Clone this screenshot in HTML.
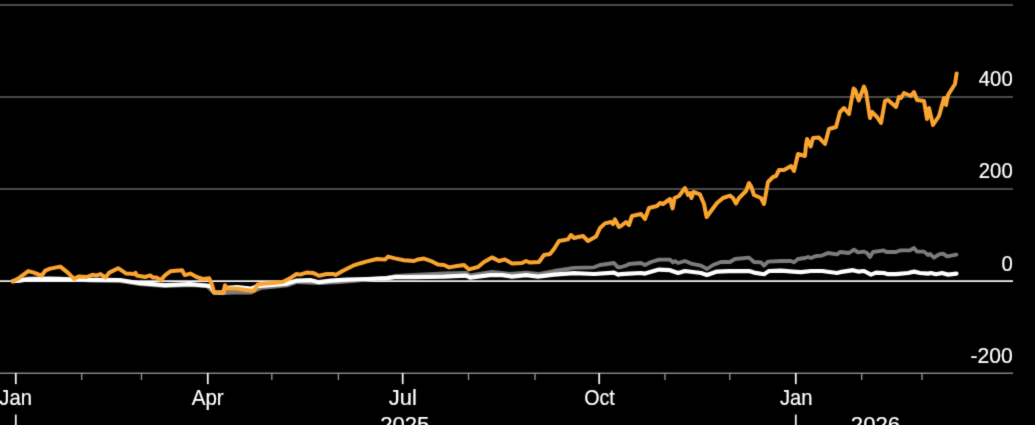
<!DOCTYPE html>
<html><head><meta charset="utf-8">
<style>
html,body{margin:0;padding:0;background:#000;}
body{width:1035px;height:425px;overflow:hidden;position:relative;font-family:"Liberation Sans",sans-serif;}
svg{position:absolute;left:0;top:0;display:block;}
text{font-family:"Liberation Sans",sans-serif;fill:#ffffff;stroke:#ffffff;stroke-width:0.2px;}
</style></head><body>
<svg width="1035" height="425" viewBox="0 0 1035 425">
<defs><filter id="soft" filterUnits="userSpaceOnUse" x="0" y="0" width="1035" height="425" color-interpolation-filters="sRGB">
<feConvolveMatrix order="3" kernelMatrix="0.02 0.08 0.02 0.08 0.6 0.08 0.02 0.08 0.02" divisor="1" edgeMode="duplicate" preserveAlpha="false"/>
</filter></defs>
<rect width="1035" height="425" fill="#000"/>
<g filter="url(#soft)">
<rect width="1035" height="425" fill="#000"/>
<g stroke="#4a4a4a" stroke-width="2">
<line x1="0" y1="4.9" x2="1013" y2="4.9"/>
<line x1="0" y1="97" x2="1013" y2="97"/>
<line x1="0" y1="189" x2="1013" y2="189"/>
</g>
<line x1="0" y1="281.1" x2="1013" y2="281.1" stroke="#f4f4f4" stroke-width="1.7"/>
<line x1="0" y1="373.3" x2="1013" y2="373.3" stroke="#848484" stroke-width="1.4"/>
<g stroke="#f2f2f2" stroke-width="1.8">
<line x1="15.8" y1="373" x2="15.8" y2="384.1"/><line x1="207.8" y1="373" x2="207.8" y2="384.1"/><line x1="402.7" y1="373" x2="402.7" y2="384.1"/><line x1="599.2" y1="373" x2="599.2" y2="384.1"/><line x1="795.8" y1="373" x2="795.8" y2="384.1"/>
<line x1="15.8" y1="414.6" x2="15.8" y2="425"/>
<line x1="795.8" y1="414.6" x2="795.8" y2="425"/>
</g>
<g stroke="#909090" stroke-width="1.4">
<line x1="81.7" y1="373" x2="81.7" y2="380"/><line x1="141.5" y1="373" x2="141.5" y2="380"/><line x1="271.8" y1="373" x2="271.8" y2="380"/><line x1="338.4" y1="373" x2="338.4" y2="380"/><line x1="468.5" y1="373" x2="468.5" y2="380"/><line x1="535" y1="373" x2="535" y2="380"/><line x1="665" y1="373" x2="665" y2="380"/><line x1="729.8" y1="373" x2="729.8" y2="380"/><line x1="861.7" y1="373" x2="861.7" y2="380"/><line x1="922" y1="373" x2="922" y2="380"/>
</g>
<g fill="none" stroke-linejoin="round" stroke-linecap="round">
<polyline stroke="#7c7c7c" stroke-width="3.8" points="13,281 28,278.4 50,278 65,278.6 90,280.5 120,281 140,284 165,286 190,285 207,286 214,292.6 223,293 237,292.3 251,292.6 257,289.6 262,287.8 273,286.8 287,285.4 297,282 319,283 340,282 385,278 395,276 414,275 444,273.4 466,273 470,275.4 492,272 510,274 526,272.6 538,274 554,271 574,267.8 594,267.3 600,265 614,263 618,267.4 621,267 626,265.6 629,264 641,263 645,265 651,262 659,259.6 670,259.6 673,262.4 675,261 678,263 685,261 691,263.6 701,265.6 707,269 713,265 721,262 730,262 735,259 749,257.6 754,262 761,262.4 764,265.6 768,261.6 781,261 791,261 794,262.4 798,259 805,258 808,257 811,258 816,256 822,255.6 828,253 837,254.4 840,252 849,253 854,249.6 858,252.4 864,251.6 867,253 870,257 873,252 884,250.4 886,252 896,252 900,250.4 910,250.4 914,248 917,251.6 924,251.6 928,255 930,254 934,257.6 939,254.4 943,253.6 947,256.4 956.5,254.6"/>
<polyline transform="translate(0,0.6)" stroke="#ffffff" stroke-width="4.2" points="13,280.6 20,280 28,278.7 45,278.6 60,278.4 75,279 100,279.2 120,279.4 140,282.6 165,284.5 190,283.5 207,285 211,285.5 214,291.8 223,292 225,287.5 237,286.6 251,288 257,285.6 273,284.4 287,283 297,280 311,279.6 319,281.6 331,280 347,279 367,278.4 387,277.6 395,276.6 414,276.6 444,276 466,275 470,277 490,274.6 502,274.6 512,276 526,274.6 538,276 554,274 574,272.6 594,273.4 614,272 618,274 621,273.6 629,273 641,272.4 645,273 659,269 670,269.6 678,272.4 685,270.4 701,272.4 707,274.4 717,271 729,270.5 749,270.4 754,272 764,273.6 769,270.4 781,270 793,271 801,271.6 811,270.4 822,270.4 837,272.4 840,271.6 853,269.6 858,271 864,270.4 871,274 876,272 884,272.4 888,273.6 896,273.6 908,272.4 914,271 920,272.4 928,273 931,272.4 936,273.6 942,272.4 948,274 956.5,273.1"/>
<polyline stroke-linecap="round" stroke="#fba430" stroke-width="4" points="12.6,281.4 18.8,278.2 28.3,271.1 33.9,272.6 41.5,275.7 45.2,270.7 50.3,268.6 60.3,266.6 67.8,272.6 74.1,278.9 79.1,276.4 86.7,277 92.3,274.8 96.7,275.4 100.5,274.1 105.5,277.4 109.3,272.6 118.1,268.2 126.3,273.6 134.5,274 135.5,272.8 136.6,275.5 145.1,277 150.2,275.4 152.7,277.4 156.4,277.6 160.8,280.1 165.2,275.1 170.3,271.3 175.3,270.7 182.2,270.3 184.7,275.1 190.4,273.6 196.6,277 202.9,278.9 209.2,278.2 211.7,283.9 214.2,292.7 220.5,292.3 223.6,292.9 224.9,285.3 227.4,288.7 236.8,288.5 243,289.6 251,290.8 254,290.6 257.6,284.6 265,283.6 273,283 283,281.7 290,278.3 296.5,274 300,274.6 306.5,272.6 313,272.9 319,275.8 326.7,274 333,273.9 335.5,275 343,270.7 353,265.7 360.6,263.2 367,261.4 377,259 385,259.6 388,256.6 395,258.4 404,260.3 414,261 418,259.4 424,258.6 432,261.4 438,264.6 444,265 449,267.4 457,266 464,265 469,269.4 478,267 484,262 492,257.4 496,259.4 499,261 505,259.4 512,263.4 522,263 526,261 530,262.6 539,262 544,255 550,254 554,249 559,241 568,239.4 571,235 574,238 583,236 588,241 596,236.6 600,228 605,223.4 611,222 613,224 615,219.4 619,227 621,226 626,222 629,225 632,216 641,214 645,219 649,208 657,206 660,203 663,204 670,199 672.6,208.4 674.6,198 679,196 685,188 688,195 690,193 691.4,198 693.4,192 700,194.4 704,204 706.6,217 711,211 717,203 723,198 730,195.6 733,198 736,203.6 739,198 746,191 749,183 751,186 754,195 761,198 764,204 768,182 773,177 776,176 779,170 784,170 791,166 794,171 798,154 805,156 806,145 807,139 810.7,146.5 813,138 819,137.6 825,144 829,129 836,127 840,112 844,108 849,114 853.6,88.5 855.2,90 858.8,100.5 864,86.5 866,92 870,118 872,112 877,117 881,123 885,101 888,100 896,107 899,97 901,98 904,93 911,96 914,92 917,100 924,101 927,119 929,108 933,125 939,116 944,98 946,105 948,95 955,84 956.6,73.5"/>
</g>
<g font-size="22.4" text-anchor="end" lengthAdjust="spacingAndGlyphs">
<text x="1012.7" y="86.1" textLength="33.9" lengthAdjust="spacingAndGlyphs">400</text>
<text x="1012.7" y="178.2" textLength="33.9" lengthAdjust="spacingAndGlyphs">200</text>
<text x="1012.7" y="270.5" textLength="11.3" lengthAdjust="spacingAndGlyphs">0</text>
<text x="1012.7" y="362.5" textLength="42.2" lengthAdjust="spacingAndGlyphs">-200</text>
</g>
<g font-size="22.4" text-anchor="middle">
<text x="15.6" y="405.3" textLength="32.6" lengthAdjust="spacingAndGlyphs">Jan</text><text x="207.7" y="405.3" textLength="32" lengthAdjust="spacingAndGlyphs">Apr</text><text x="402.8" y="405.3" textLength="28" lengthAdjust="spacingAndGlyphs">Jul</text><text x="599.5" y="405.3" textLength="30.6" lengthAdjust="spacingAndGlyphs">Oct</text><text x="796.2" y="405.3" textLength="32.6" lengthAdjust="spacingAndGlyphs">Jan</text>
<text x="404.8" y="431.5" textLength="49.3" lengthAdjust="spacingAndGlyphs">2025</text>
<text x="875.5" y="431.5" textLength="49.3" lengthAdjust="spacingAndGlyphs">2026</text>
</g>
</g>
</svg>
</body></html>
